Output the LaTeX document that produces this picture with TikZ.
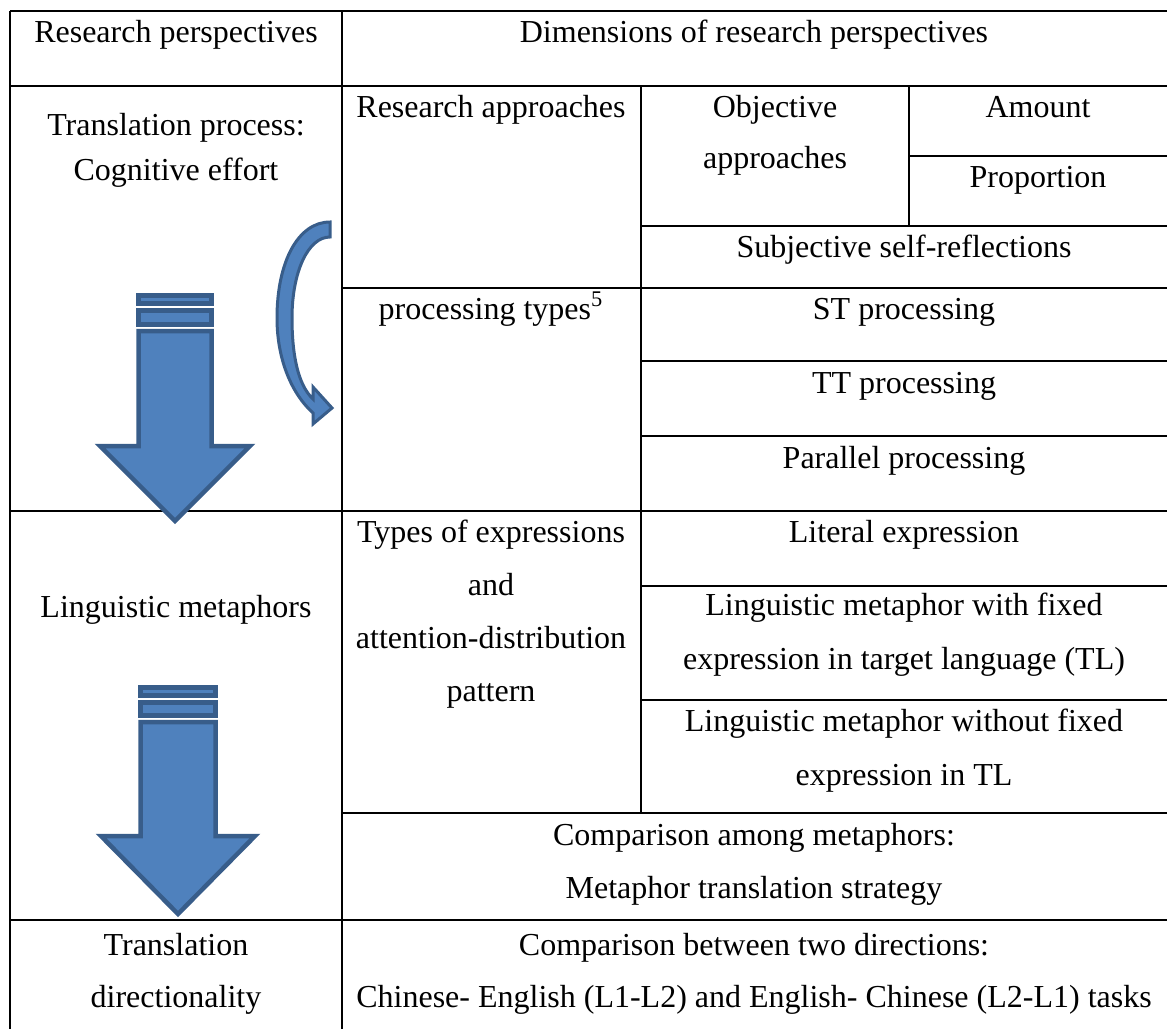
\documentclass[tikz,border=0pt]{standalone}
\usepackage{fontspec}
\setmainfont{Liberation Serif}
\definecolor{arrfill}{HTML}{4F81BD}
\definecolor{arrline}{HTML}{385D8A}
\begin{document}
\begin{tikzpicture}[x=0.5pt,y=-0.5pt,
  rule/.style={line width=1.25pt, black},
  txt/.style={anchor=base, inner sep=0pt, font=\fontsize{16}{19}\selectfont},
  blockarrow/.style={fill=arrfill, draw=arrline, line width=2.25pt, line join=miter},
  curvearrow/.style={fill=arrfill, draw=arrline, line width=1.5pt, line join=miter},
]
\useasboundingbox (0,0) rectangle (1167,1028);
% table rules
\draw[rule] (10,11) -- (1175,11);
\draw[rule] (10,86) -- (1175,86);
\draw[rule] (909,156) -- (1175,156);
\draw[rule] (641,226) -- (1175,226);
\draw[rule] (342,288) -- (1175,288);
\draw[rule] (641,361) -- (1175,361);
\draw[rule] (641,436) -- (1175,436);
\draw[rule] (10,511) -- (1175,511);
\draw[rule] (641,586) -- (1175,586);
\draw[rule] (641,700) -- (1175,700);
\draw[rule] (342,813) -- (1175,813);
\draw[rule] (10,920) -- (1175,920);
\draw[rule] (10,11) -- (10,1035);
\draw[rule] (342,11) -- (342,1035);
\draw[rule] (641,86) -- (641,813);
\draw[rule] (909,86) -- (909,226);
% texts
\node[txt] (h1) at (176,42) {Research perspectives};
\node[txt] (h2) at (754,42) {Dimensions of research perspectives};
\node[txt] (p1a) at (176,135) {Translation process:};
\node[txt] (p1b) at (176,180) {Cognitive effort};
\node[txt] (ra) at (491,117) {Research approaches};
\node[txt] (oa1) at (775,117) {Objective};
\node[txt] (oa2) at (775,168) {approaches};
\node[txt] (am) at (1038,117) {Amount};
\node[txt] (pr) at (1038,187) {Proportion};
\node[txt] (ss) at (904,257) {Subjective self-reflections};
\node[txt] (pt) at (491,319) {processing types\textsuperscript{5}};
\node[txt] (st) at (904,319) {ST processing};
\node[txt] (tt) at (904,393) {TT processing};
\node[txt] (pp) at (904,468) {Parallel processing};
\node[txt] (lm) at (176,617) {Linguistic metaphors};
\node[txt] (te1) at (491,542) {Types of expressions};
\node[txt] (te2) at (491,595) {and};
\node[txt] (te3) at (491,648) {attention-distribution};
\node[txt] (te4) at (491,701) {pattern};
\node[txt] (le) at (904,542) {Literal expression};
\node[txt] (wf1) at (904,615) {Linguistic metaphor with fixed};
\node[txt] (wf2) at (904,669) {expression in target language (TL)};
\node[txt] (nf1) at (904,731) {Linguistic metaphor without fixed};
\node[txt] (nf2) at (904,785) {expression in TL};
\node[txt] (cm1) at (754,845) {Comparison among metaphors:};
\node[txt] (cm2) at (754,898) {Metaphor translation strategy};
\node[txt] (td1) at (176,955) {Translation};
\node[txt] (td2) at (176,1007) {directionality};
\node[txt] (cd1) at (754,955) {Comparison between two directions:};
\node[txt] (cd2) at (754,1007) {Chinese- English (L1-L2) and English- Chinese (L2-L1) tasks};
% upper striped arrow
\draw[blockarrow] (138.5,295.5) rectangle (211.5,303.5);
\draw[blockarrow] (138.5,310.5) rectangle (211.5,324.5);
\draw[blockarrow] (138.5,331) -- (211.5,331) -- (211.5,446) -- (250,446) -- (175,521) -- (100,446) -- (138.5,446) -- cycle;
% lower striped arrow
\draw[blockarrow] (140.5,687.5) rectangle (215.5,695.5);
\draw[blockarrow] (140.5,702.5) rectangle (215.5,715.5);
\draw[blockarrow] (140.5,722) -- (215.5,722) -- (215.5,836) -- (255,836) -- (178,914) -- (101,836) -- (140.5,836) -- cycle;
% curved arrow
\draw[curvearrow] (330,222) .. controls (298,222) and (277,262) .. (277,318)
  .. controls (277,360) and (292,394) .. (313,413) -- (313,424) -- (332,408) -- (313,387) -- (313,399)
  .. controls (298,385) and (292,355) .. (292,318) .. controls (292,272) and (308,237) .. (330,237) -- cycle;
\end{tikzpicture}
\end{document}
